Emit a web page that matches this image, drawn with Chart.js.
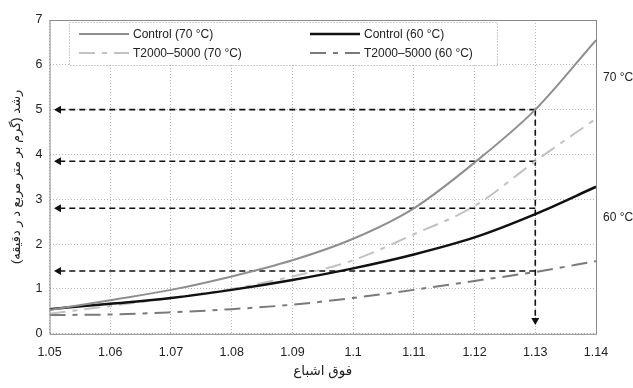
<!DOCTYPE html>
<html>
<head>
<meta charset="utf-8">
<script src="https://cdn.jsdelivr.net/npm/chart.js@4.4.0/dist/chart.umd.min.js"></script>
<style>
  html, body { margin: 0; padding: 0; background: #fff; }
  #wrap { width: 633px; height: 388px; }
</style>
</head>
<body>
<div id="wrap"><canvas id="chart" width="633" height="388"></canvas></div>
<script>
// x values (supersaturation)
const xValues = [1.05, 1.06, 1.07, 1.08, 1.09, 1.10, 1.11, 1.12, 1.13, 1.14];
const xTickLabels = ["1.05", "1.06", "1.07", "1.08", "1.09", "1.1", "1.11", "1.12", "1.13", "1.14"];

// growth rate series
const control70 = [0.53, 0.75, 0.98, 1.28, 1.64, 2.12, 2.8, 3.82, 5.0, 6.55];
const control60 = [0.55, 0.67, 0.8, 0.98, 1.2, 1.46, 1.77, 2.15, 2.67, 3.28];
const t70 = [0.45, 0.62, 0.8, 1.0, 1.28, 1.64, 2.22, 2.85, 3.85, 4.8];
const t60 = [0.42, 0.43, 0.48, 0.55, 0.65, 0.8, 0.98, 1.18, 1.38, 1.62];

const seriesNames = ["Control (70 °C)", "Control (60 °C)", "T2000–5000 (70 °C)", "T2000–5000 (60 °C)"];

// guide arrows: read-off levels at x = 1.13
const guideX = 1.13;
const guideLevels = [5.0, 3.85, 2.8, 1.4];
const guideEndX = 1.0515;
const guideBottom = 0.3;

const sideLabels = [{ text: "70 °C", y: 5.72 }, { text: "60 °C", y: 2.6 }];

const FONT = "'Liberation Sans', 'DejaVu Sans', Arial, sans-serif";

const toPts = (ys) => ys.map((y, i) => ({ x: xValues[i], y: y }));

const datasets = [
  { label: seriesNames[0], data: toPts(control70), borderColor: "#8f8f8f", borderWidth: 2 },
  { label: seriesNames[1], data: toPts(control60), borderColor: "#111", borderWidth: 2.5 },
  { label: seriesNames[2], data: toPts(t70), borderColor: "#c2c2c2", borderWidth: 2, borderDash: [16, 7, 5, 7] },
  { label: seriesNames[3], data: toPts(t60), borderColor: "#7a7a7a", borderWidth: 2, borderDash: [16, 7, 5, 7] }
];
datasets.forEach(d => { d.cubicInterpolationMode = "monotone"; });

// horizontal guide arrows
guideLevels.forEach(v => {
  datasets.push({
    label: "guide", data: [{ x: guideX, y: v }, { x: guideEndX, y: v }],
    borderColor: "#111", borderWidth: 1.6, borderDash: [6, 4],
    pointRadius: [0, 3], pointStyle: "triangle", pointRotation: -90,
    pointBackgroundColor: "#111", pointBorderColor: "#111", tension: 0
  });
});
// vertical guide arrow
datasets.push({
  label: "guide", data: [{ x: guideX, y: guideLevels[0] }, { x: guideX, y: guideBottom }],
  borderColor: "#111", borderWidth: 1.6, borderDash: [6, 4],
  pointRadius: [0, 3], pointStyle: "triangle", pointRotation: 180,
  pointBackgroundColor: "#111", pointBorderColor: "#111", tension: 0
});

const extras = {
  id: "extras",
  afterDraw(chart) {
    const ctx = chart.ctx;
    const a = chart.chartArea;
    const ys = chart.scales.y;
    ctx.save();
    // plot frame
    ctx.strokeStyle = "#8a8a8a";
    ctx.lineWidth = 1;
    ctx.setLineDash([]);
    ctx.strokeRect(a.left + 0.5, a.top + 0.5, a.right - a.left, a.bottom - a.top);

    // legend box
    const lx = 69, ly = 22, lw = 428, lh = 43;
    ctx.fillStyle = "#fff";
    ctx.fillRect(lx, ly, lw, lh);
    ctx.setLineDash([1, 2]);
    ctx.strokeStyle = "#999";
    ctx.strokeRect(lx + 0.5, ly + 0.5, lw, lh);
    const cells = [[79, 34], [310, 34], [79, 53], [310, 53]];
    ctx.font = "12px " + FONT;
    ctx.textBaseline = "middle";
    ctx.textAlign = "left";
    [0, 1, 2, 3].forEach((di, k) => {
      const ds = chart.data.datasets[di];
      const [cx, cy] = cells[k];
      ctx.beginPath();
      ctx.setLineDash(ds.borderDash || []);
      ctx.strokeStyle = ds.borderColor;
      ctx.lineWidth = ds.borderWidth;
      ctx.moveTo(cx, cy);
      ctx.lineTo(cx + 50, cy);
      ctx.stroke();
      ctx.setLineDash([]);
      ctx.fillStyle = "#222";
      ctx.fillText(ds.label, cx + 54, cy + 1);
    });

    // side labels
    ctx.font = "12px " + FONT;
    ctx.fillStyle = "#222";
    sideLabels.forEach(s => {
      ctx.fillText(s.text, a.right + 7, ys.getPixelForValue(s.y));
    });
    ctx.restore();
  }
};

new Chart(document.getElementById("chart"), {
  type: "line",
  data: { datasets: datasets },
  options: {
    responsive: false,
    animation: false,
    layout: { padding: { left: 9, right: 37, top: 20, bottom: 9 } },
    elements: { point: { radius: 0 } },
    plugins: { legend: { display: false }, tooltip: { enabled: false } },
    scales: {
      x: {
        type: "linear", min: 1.05, max: 1.14,
        afterBuildTicks: (axis) => { axis.ticks = xValues.map(v => ({ value: v })); },
        ticks: {
          callback: (v, i) => xTickLabels[i],
          color: "#222", font: { size: 12.5, family: FONT }, padding: 11, maxRotation: 0
        },
        grid: { color: "#b5b5b5", drawTicks: false },
        border: { display: false, dash: [1, 2] },
        title: { display: true, text: "فوق اشباع", color: "#222", font: { size: 13.5, family: FONT }, padding: { top: -8, bottom: 0 } }
      },
      y: {
        min: 0, max: 7,
        ticks: { stepSize: 1, color: "#222", font: { size: 12.5, family: FONT }, padding: 7 },
        grid: { color: "#b5b5b5", drawTicks: false },
        border: { display: false, dash: [1, 2] },
        title: { display: true, text: "رشد (گرم بر متر مربع د ر دقیقه)", color: "#222", font: { size: 13, family: FONT }, padding: { top: 0, bottom: 4 } }
      }
    }
  },
  plugins: [extras]
});
</script>
</body>
</html>
